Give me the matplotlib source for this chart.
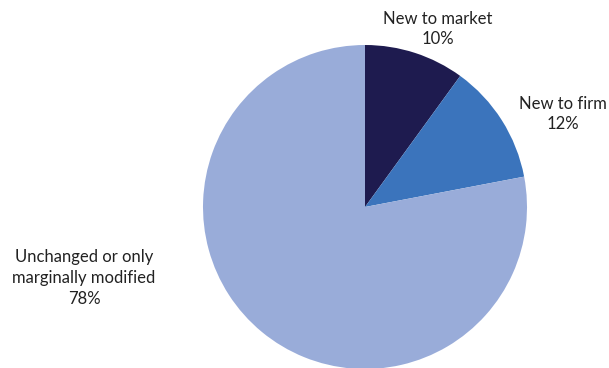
import matplotlib
matplotlib.use("Agg")
import matplotlib.pyplot as plt

categories = ["New to market", "New to firm", "Unchanged or only\nmarginally modified"]
shares = [10, 12, 78]
colors = ["#1e1b4f", "#3b74bc", "#99acd9"]

plt.rcParams["font.family"] = ["Lato", "DejaVu Sans"]

W, H = 609, 368
fig = plt.figure(figsize=(W / 100, H / 100), dpi=100)
ax = fig.add_axes([0, 0, 1, 1])

# pixel-like coordinates, origin at bottom-left
cx, cy, r = 365, H - 207, 162
ax.pie(shares, colors=colors, startangle=90, counterclock=False,
       center=(cx, cy), radius=r, wedgeprops=dict(linewidth=0))

ax.set_xlim(0, W)
ax.set_ylim(0, H)
ax.set_aspect("equal")
ax.axis("off")

label_pos = [(438, 29), (563, 114), (84, 278)]
for name, val, (x, y) in zip(categories, shares, label_pos):
    ax.text(x, H - y, f"{name}\n{val}%", ha="center", va="center",
            fontsize=12, color="#222222", linespacing=1.38)

fig.savefig("out.png", dpi=100)
